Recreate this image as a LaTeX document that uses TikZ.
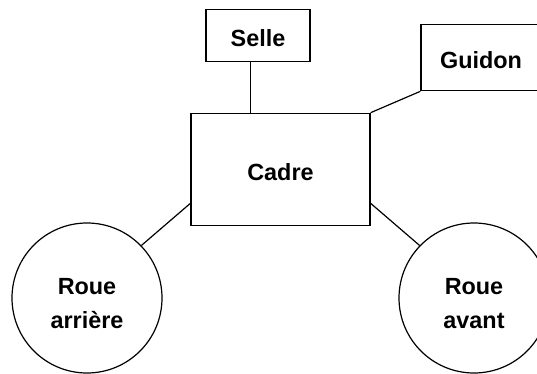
\documentclass[tikz,border=0pt]{standalone}
\usepackage{fontspec}
\setmainfont{Liberation Sans}
\begin{document}
\begin{tikzpicture}[x=1pt,y=-1pt,
  every node/.style={font=\fontsize{23.4}{34}\selectfont\bfseries},
  part/.style={draw,line width=1.2pt,rectangle,inner sep=0pt,text height=23pt,text depth=0pt},
  wheel/.style={draw,line width=1.2pt,circle,inner sep=0pt,minimum size=150pt},
  txt/.style={align=center,inner sep=0pt},
  link/.style={line width=1.2pt}]
\useasboundingbox (0,0) rectangle (537,374);
\clip (0,0) rectangle (537,374);
\node[part,minimum width=104pt,minimum height=52.4pt] (selle) at (258,35.5) {Selle};
\node[part,minimum width=120pt,minimum height=66.4pt] (guidon) at (481,57.5) {Guidon};
\node[part,minimum width=179pt,minimum height=112pt] (cadre) at (280.5,169.3) {Cadre};
\node[wheel] (ra) at (87,298) {};
\node[txt] (rat) at ([yshift=-6pt]ra.center) {Roue\\arrière};
\node[wheel] (rv) at (474,298) {};
\node[txt] (rvt) at ([yshift=-6pt]rv.center) {Roue\\avant};
\draw[link] ([xshift=-7.3pt]selle.south) -- ([xshift=-7.3pt]selle.south |- cadre.north);
\draw[link] (cadre.north east) -- (guidon.south west);
\draw[link] ([yshift=-34pt]cadre.west) -- (ra.44);
\draw[link] ([yshift=-34pt]cadre.east) -- (rv.136);
\end{tikzpicture}
\end{document}
